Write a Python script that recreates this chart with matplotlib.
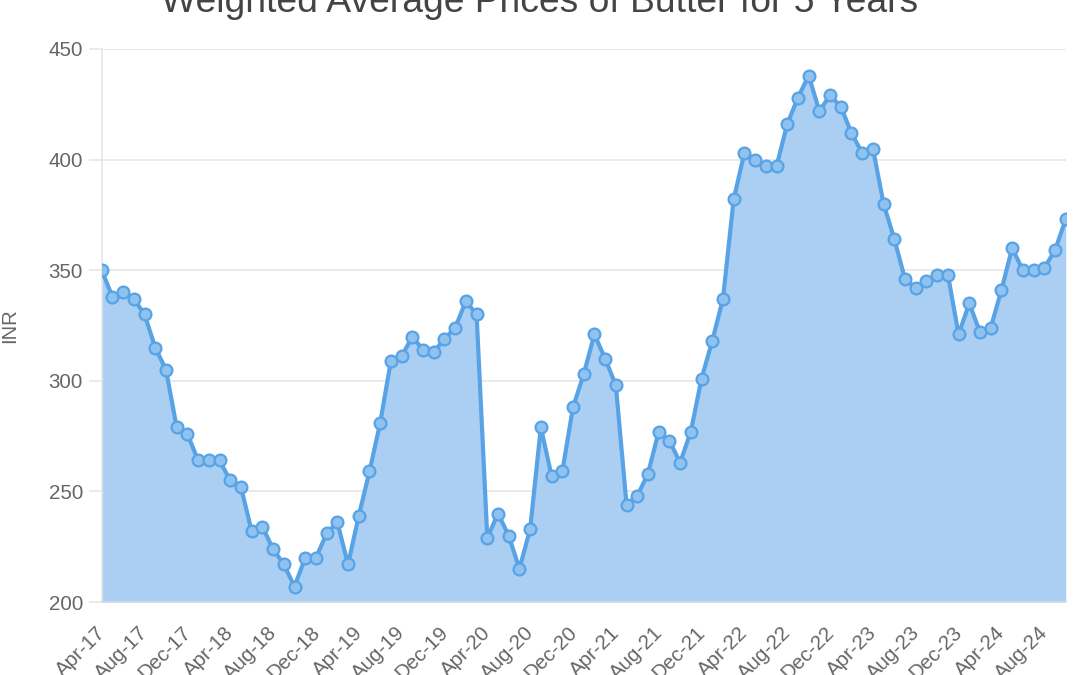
import matplotlib
matplotlib.use("Agg")
import matplotlib.pyplot as plt
from matplotlib.transforms import ScaledTranslation

title = "Weighted Average Prices of Butter for 5 Years"
y_label = "INR"

prices = [
    350, 338, 340, 337, 330, 315, 305, 279, 276, 264,
    264, 264, 255, 252, 232, 234, 224, 217, 207, 220,
    220, 231, 236, 217, 239, 259, 281, 309, 311, 320,
    314, 313, 319, 324, 336, 330, 229, 240, 230, 215,
    233, 279, 257, 259, 288, 303, 321, 310, 298, 244,
    248, 258, 277, 273, 263, 277, 301, 318, 337, 382,
    403, 400, 397, 397, 416, 428, 438, 422, 429, 424,
    412, 403, 405, 380, 364, 346, 342, 345, 348, 348,
    321, 335, 322, 324, 341, 360, 350, 350, 351, 359,
    373,
]

tick_labels = [
    "Apr-17", "Aug-17", "Dec-17", "Apr-18", "Aug-18", "Dec-18",
    "Apr-19", "Aug-19", "Dec-19", "Apr-20", "Aug-20", "Dec-20",
    "Apr-21", "Aug-21", "Dec-21", "Apr-22", "Aug-22", "Dec-22",
    "Apr-23", "Aug-23", "Dec-23", "Apr-24", "Aug-24",
]
tick_step = 4

y_ticks = [200, 250, 300, 350, 400, 450]

plt.rcParams['font.family'] = ['Liberation Sans', 'DejaVu Sans']

fig = plt.figure(figsize=(10.8, 6.75), dpi=100)
ax = fig.add_axes([101.7 / 1080, 1 - 602 / 675, (1065.7 - 101.7) / 1080, (602 - 49) / 675])

x = list(range(len(prices)))
line_c = '#58a2e6'
fill_c = '#abcff2'

ax.fill_between(x, prices, 200, color=fill_c, linewidth=0, zorder=2)
ax.plot(x, prices, color=line_c, linewidth=3.0, solid_joinstyle='miter', zorder=3,
        marker='o', markersize=8.5, markerfacecolor='#8fc2ef', markeredgecolor=line_c,
        markeredgewidth=1.6)

ax.set_xlim(0, len(prices) - 1)
ax.set_ylim(200, 450)
ax.set_yticks(y_ticks)
ax.set_yticklabels([str(v) for v in y_ticks])
ax.grid(axis='y', color='#e6e6e6', linewidth=1.2, zorder=0)
ax.set_axisbelow(True)

ax.set_xticks(list(range(0, tick_step * len(tick_labels), tick_step)))
ax.set_xticklabels(tick_labels, rotation=45, ha='right', va='top', rotation_mode='anchor')
ax.tick_params(axis='x', length=0, pad=15, labelsize=14.8, labelcolor='#666666')
ax.tick_params(axis='y', length=9.5, width=1.2, color='#e6e6e6', pad=4,
               labelsize=14.8, labelcolor='#666666')
shift = ScaledTranslation(-0.06, 0.0, fig.dpi_scale_trans)
for lab in ax.get_xticklabels():
    lab.set_transform(lab.get_transform() + shift)

for s in ['top', 'right']:
    ax.spines[s].set_visible(False)
ax.spines['left'].set_color('#e6e6e6')
ax.spines['left'].set_linewidth(1.2)
ax.spines['bottom'].set_color('#d5dbe6')
ax.spines['bottom'].set_linewidth(1.2)
ax.spines['bottom'].set_zorder(4)

ax.set_ylabel(y_label, fontsize=14.6, color='#666666', labelpad=10)
ax.yaxis.set_label_coords(-(101.7 - 19) / (1065.7 - 101.7), 0.5)

fig.text(0.5, 1 - 11.5 / 675, title, ha='center', va='baseline', fontsize=26.8, color='#444444')

fig.savefig('out.png', dpi=100, facecolor='white')
